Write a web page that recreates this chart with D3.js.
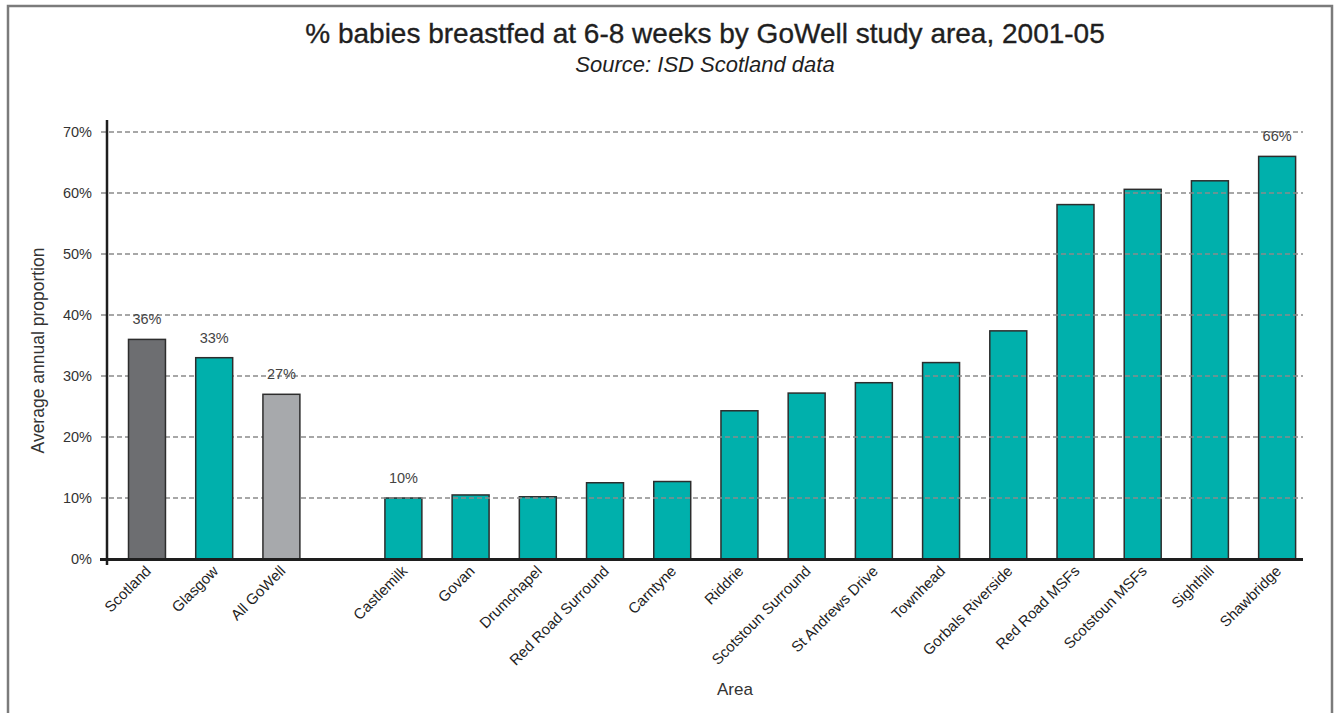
<!DOCTYPE html>
<html>
<head>
<meta charset="utf-8">
<script src="https://cdn.jsdelivr.net/npm/d3@7"></script>
<style>
  html, body { margin: 0; padding: 0; background: #fff; }
  svg { display: block; font-family: "Liberation Sans", Arial, Helvetica, sans-serif; }
</style>
</head>
<body>
<svg id="chart" width="1338" height="713"></svg>
<script>
// ---- data ----
const categories = [
  "Scotland", "Glasgow", "All GoWell",
  "Castlemilk", "Govan", "Drumchapel", "Red Road Surround", "Carntyne",
  "Riddrie", "Scotstoun Surround", "St Andrews Drive", "Townhead",
  "Gorbals Riverside", "Red Road MSFs", "Scotstoun MSFs", "Sighthill", "Shawbridge"
];
const values = [
  36, 33, 27,
  10, 10.5, 10.2, 12.5, 12.7,
  24.3, 27.2, 28.9, 32.2,
  37.4, 58.1, 60.6, 62.0, 66
];
// comparison areas shown on the left, set apart from the study areas
const comparators = ["Scotland", "Glasgow", "All GoWell"];
// bars that carry a value label
const annotated = ["Scotland", "Glasgow", "All GoWell", "Castlemilk", "Shawbridge"];
const yTicks = [0, 10, 20, 30, 40, 50, 60, 70];

const titleText = "% babies breastfed at 6-8 weeks by GoWell study area, 2001-05";
const subtitleText = "Source: ISD Scotland data";
const yTitleText = "Average annual proportion";
const xTitleText = "Area";

// ---- style & layout ----
const TEAL = "#00b0ac";
const fillFor = { "Scotland": "#6d6e71", "All GoWell": "#a7a9ac" };
const plot = { left: 107, right: 1303, top: 132, bottom: 559 };
const GROUP_GAP = 0.815;   // extra space between comparators and study areas, in slots
const BAR_FRACTION = 0.55;

const svg = d3.select("#chart");

const slotOf = i => i + (i >= comparators.length ? GROUP_GAP : 0);
const x = d3.scaleLinear()
  .domain([-0.595, categories.length - 1 + GROUP_GAP + 0.385])
  .range([plot.left, plot.right]);
const step = x(1) - x(0);
const barW = step * BAR_FRACTION;

const y = d3.scaleLinear().domain([0, 70]).range([plot.bottom, plot.top]);

const rows = categories.map((c, i) => ({ name: c, value: values[i], pos: slotOf(i) }));

// outer frame
svg.append("rect")
  .attr("x", 8).attr("y", 6)
  .attr("width", 1324).attr("height", 800)
  .attr("fill", "none")
  .attr("stroke", "#7b7b7b")
  .attr("stroke-width", 2.5);

// title + subtitle
const cx = (plot.left + plot.right) / 2;
svg.append("text")
  .attr("x", cx).attr("y", 43)
  .attr("text-anchor", "middle")
  .attr("font-size", 28)
  .attr("fill", "#1f1f1f")
  .attr("stroke", "#1f1f1f").attr("stroke-width", 0.35)
  .text(titleText);
svg.append("text")
  .attr("x", cx).attr("y", 72)
  .attr("text-anchor", "middle")
  .attr("font-size", 22)
  .attr("font-style", "italic")
  .attr("fill", "#1f1f1f")
  .text(subtitleText);

const drawBars = (sel, data) => sel.selectAll("rect")
  .data(data)
  .join("rect")
  .attr("x", d => x(d.pos) - barW / 2)
  .attr("y", d => y(d.value))
  .attr("width", barW)
  .attr("height", d => y(0) - y(d.value))
  .attr("fill", d => fillFor[d.name] || TEAL)
  .attr("stroke", "#2d2d2d")
  .attr("stroke-width", 1.5);

// study-area bars sit beneath the gridlines, comparator bars above them
drawBars(svg.append("g"), rows.filter(d => !comparators.includes(d.name)));

// gridlines
svg.append("g")
  .selectAll("line")
  .data(yTicks.filter(t => t > 0))
  .join("line")
  .attr("x1", plot.left - 6).attr("x2", plot.right)
  .attr("y1", d => y(d)).attr("y2", d => y(d))
  .attr("stroke", "#8a8a8a")
  .attr("stroke-width", 1.3)
  .attr("stroke-dasharray", "5,3");

drawBars(svg.append("g"), rows.filter(d => comparators.includes(d.name)));

// y axis labels
const yAxis = d3.axisLeft(y).tickValues(yTicks).tickSize(0).tickPadding(0)
  .tickFormat(d => d + "%");
const gy = svg.append("g")
  .attr("transform", `translate(${plot.left - 15},0)`)
  .call(yAxis);
gy.select(".domain").remove();
gy.selectAll("text")
  .attr("font-family", "'Liberation Sans', Arial, sans-serif")
  .attr("font-size", 14.5)
  .attr("fill", "#333");

// axis lines
svg.append("line")
  .attr("x1", plot.left).attr("x2", plot.left)
  .attr("y1", plot.top - 12).attr("y2", plot.bottom + 6)
  .attr("stroke", "#1e1e1e").attr("stroke-width", 2.5);
svg.append("line")
  .attr("x1", plot.left - 7).attr("x2", plot.right)
  .attr("y1", plot.bottom + 0.5).attr("y2", plot.bottom + 0.5)
  .attr("stroke", "#1e1e1e").attr("stroke-width", 3);

// category labels
svg.append("g")
  .selectAll("text")
  .data(rows)
  .join("text")
  .attr("transform", d => `translate(${x(d.pos) + 5},${plot.bottom + 13}) rotate(-45)`)
  .attr("text-anchor", "end")
  .attr("font-size", 15)
  .attr("fill", "#1e1e1e")
  .text(d => d.name);

// value labels
svg.append("g")
  .selectAll("text")
  .data(rows.filter(d => annotated.includes(d.name)))
  .join("text")
  .attr("x", d => x(d.pos))
  .attr("y", d => y(d.value) - 15)
  .attr("text-anchor", "middle")
  .attr("font-size", 14.5)
  .attr("fill", "#444")
  .text(d => d3.format(".0f")(d.value) + "%");

// axis titles
svg.append("text")
  .attr("transform", `translate(44,${(plot.top + plot.bottom) / 2 + 5}) rotate(-90)`)
  .attr("text-anchor", "middle")
  .attr("font-size", 17.5)
  .attr("fill", "#333")
  .text(yTitleText);
svg.append("text")
  .attr("x", 735).attr("y", 695)
  .attr("text-anchor", "middle")
  .attr("font-size", 17)
  .attr("fill", "#333")
  .text(xTitleText);
</script>
</body>
</html>
